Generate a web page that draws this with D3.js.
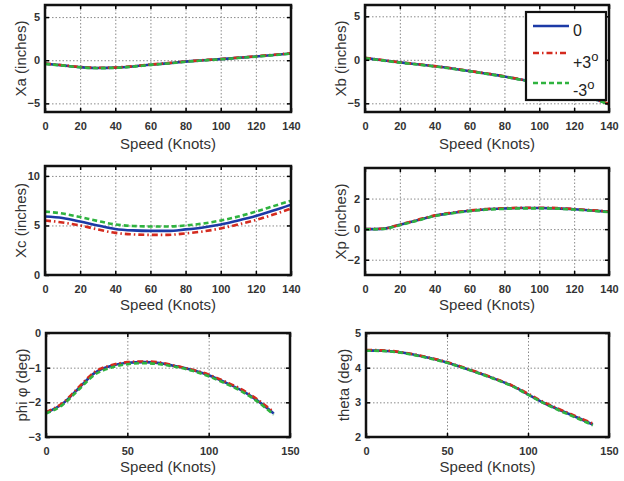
<!DOCTYPE html>
<html><head><meta charset="utf-8">
<script src="https://cdn.jsdelivr.net/npm/d3@7"></script>
<style>body{margin:0;background:#fff}svg{display:block}</style>
</head><body><svg id="c" width="624" height="481"></svg>
<script>
// ---------- data ----------
const speed = [0,10,20,30,40,50,60,70,80,90,100,110,120,130,140];
const seriesNames = ["0","+3","-3"];

const xa0 = [-0.40,-0.60,-0.80,-0.90,-0.86,-0.72,-0.52,-0.36,-0.16,-0.01,0.13,0.28,0.43,0.60,0.78];
const xaP = [-0.38,-0.58,-0.78,-0.88,-0.84,-0.70,-0.50,-0.34,-0.14,0.01,0.15,0.30,0.46,0.63,0.81];
const xaM = [-0.42,-0.62,-0.82,-0.92,-0.88,-0.74,-0.54,-0.38,-0.18,-0.03,0.11,0.26,0.41,0.58,0.76];

const xb0 = [0.20,-0.05,-0.30,-0.52,-0.75,-1.00,-1.30,-1.60,-1.92,-2.30,-2.70,-3.20,-3.80,-4.40,-5.10];
const xbP = [0.22,-0.03,-0.28,-0.50,-0.73,-0.98,-1.28,-1.58,-1.90,-2.28,-2.68,-3.18,-3.78,-4.38,-5.07];
const xbM = [0.18,-0.07,-0.32,-0.54,-0.77,-1.02,-1.32,-1.62,-1.94,-2.32,-2.72,-3.22,-3.82,-4.42,-5.13];

const xc0 = [5.90,5.75,5.40,5.00,4.65,4.50,4.45,4.45,4.60,4.80,5.10,5.50,5.95,6.50,7.10];
const xcP = [5.50,5.30,5.00,4.60,4.25,4.10,4.05,4.05,4.20,4.40,4.70,5.10,5.55,6.10,6.70];
const xcM = [6.40,6.20,5.85,5.45,5.10,4.95,4.90,4.90,5.00,5.20,5.50,5.90,6.40,6.95,7.50];

const xp0 = [0.00,0.02,0.28,0.58,0.88,1.06,1.20,1.30,1.35,1.38,1.38,1.36,1.30,1.22,1.14];
const xpP = [0.01,0.03,0.30,0.60,0.90,1.08,1.22,1.32,1.37,1.40,1.40,1.38,1.32,1.24,1.16];
const xpM = [-0.01,0.01,0.26,0.56,0.86,1.04,1.18,1.28,1.33,1.36,1.36,1.34,1.28,1.20,1.12];

const phi0 = [-2.30,-2.05,-1.60,-1.15,-0.95,-0.86,-0.84,-0.87,-0.96,-1.07,-1.22,-1.42,-1.65,-1.95,-2.32];
const phiP = [-2.28,-2.03,-1.57,-1.12,-0.93,-0.84,-0.82,-0.85,-0.95,-1.06,-1.20,-1.40,-1.62,-1.92,-2.28];
const phiM = [-2.32,-2.08,-1.64,-1.20,-1.00,-0.90,-0.87,-0.90,-0.98,-1.09,-1.25,-1.45,-1.68,-1.98,-2.36];

const th0 = [4.50,4.49,4.45,4.37,4.27,4.15,4.00,3.84,3.67,3.48,3.23,2.98,2.77,2.57,2.36];
const thP = [4.51,4.50,4.46,4.38,4.28,4.16,4.01,3.85,3.68,3.49,3.25,3.00,2.79,2.59,2.39];
const thM = [4.49,4.48,4.44,4.36,4.26,4.14,3.99,3.83,3.66,3.47,3.22,2.97,2.75,2.55,2.34];

const xTicks140 = [0,20,40,60,80,100,120,140];
const xTicks150 = [0,50,100,150];
const yTicksXa = [-5,0,5];
const yTicksXb = [-5,0,5];
const yTicksXc = [0,5,10];
const yTicksXp = [-2,0,2];
const yTicksPhi = [-3,-2,-1,0];
const yTicksTh = [2,3,4,5];

// ---------- layout / style ----------
const colors = ["#1c3aa6","#d42a1e","#2fb33f"];
const dashes = [null,"6,3,1.5,3","5,3"];
const panels = [
  {x0:45,x1:291,y0:5,y1:112,xd:[0,140],yd:[-6,6.4],xt:xTicks140,yt:yTicksXa,yl:"Xa (inches)",d:[xa0,xaP,xaM],lx:20,xty:126,xtl:149},
  {x0:365,x1:609,y0:5,y1:112,xd:[0,140],yd:[-6,6.3],xt:xTicks140,yt:yTicksXb,yl:"Xb (inches)",d:[xb0,xbP,xbM],lx:340,xty:126,xtl:149,legend:true},
  {x0:45,x1:291,y0:166,y1:275,xd:[0,140],yd:[0,11],xt:xTicks140,yt:yTicksXc,yl:"Xc (inches)",d:[xc0,xcP,xcM],lx:20,xty:288,xtl:310},
  {x0:365,x1:609,y0:168,y1:275,xd:[0,140],yd:[-3,4],xt:xTicks140,yt:yTicksXp,yl:"Xp (inches)",d:[xp0,xpP,xpM],lx:340,xty:288,xtl:310},
  {x0:46,x1:290,y0:333,y1:437,xd:[0,150],yd:[-3,0],xt:xTicks150,yt:yTicksPhi,yl:"phi \u03c6 (deg)",d:[phi0,phiP,phiM],lx:21,xty:451,xtl:472},
  {x0:366,x1:609,y0:333,y1:437,xd:[0,150],yd:[2,5],xt:xTicks150,yt:yTicksTh,yl:"theta (deg)",d:[th0,thP,thM],lx:343,xty:451,xtl:472}
];

const svg = d3.select("#c");
const FONT = "'Liberation Sans', Arial, Helvetica, sans-serif";

panels.forEach((p,i)=>{
  const x = d3.scaleLinear().domain(p.xd).range([p.x0,p.x1]);
  const y = d3.scaleLinear().domain(p.yd).range([p.y1,p.y0]);
  const w = p.x1-p.x0, h = p.y1-p.y0;
  const g = svg.append("g");

  // grid
  const gx = g.append("g").attr("transform",`translate(0,${p.y1})`)
    .call(d3.axisBottom(x).tickValues(p.xt).tickSize(-h).tickFormat(""));
  const gy = g.append("g").attr("transform",`translate(${p.x0},0)`)
    .call(d3.axisLeft(y).tickValues(p.yt).tickSize(-w).tickFormat(""));
  [gx,gy].forEach(a=>{ a.select(".domain").remove();
    a.selectAll("line").attr("stroke","#8a8a8a").attr("stroke-width",1).attr("stroke-dasharray","1.5,2"); });

  // tick labels
  const lx = g.append("g").attr("transform",`translate(0,${p.y1})`)
    .call(d3.axisBottom(x).tickValues(p.xt).tickSize(0).tickPadding(10).tickFormat(d3.format("d")));
  const ly = g.append("g").attr("transform",`translate(${p.x0},0)`)
    .call(d3.axisLeft(y).tickValues(p.yt).tickSize(0).tickPadding(5).tickFormat(d3.format("d")));
  [lx,ly].forEach(a=>{ a.select(".domain").remove();
    a.selectAll("text").attr("font-family",FONT).attr("font-size",11).attr("font-weight","bold").attr("fill","#333"); });

  // clip + lines
  const cid = "clip"+i;
  svg.append("clipPath").attr("id",cid).append("rect").attr("x",p.x0).attr("y",p.y0).attr("width",w).attr("height",h);
  const line = d3.line().x((d,k)=>x(speed[k])).y(d=>y(d)).curve(d3.curveMonotoneX);
  const lg = g.append("g").attr("clip-path",`url(#${cid})`);
  p.d.forEach((s,j)=>{
    lg.append("path").attr("d",line(s)).attr("fill","none").attr("stroke",colors[j])
      .attr("stroke-width",2.6).attr("stroke-dasharray",dashes[j]);
  });

  // inner ticks on all four sides
  const tk = [
    [d3.axisBottom(x).tickValues(p.xt), `translate(0,${p.y1})`],
    [d3.axisTop(x).tickValues(p.xt), `translate(0,${p.y0})`],
    [d3.axisLeft(y).tickValues(p.yt), `translate(${p.x0},0)`],
    [d3.axisRight(y).tickValues(p.yt), `translate(${p.x1},0)`]
  ];
  tk.forEach(([ax,tr])=>{
    const a = g.append("g").attr("transform",tr).call(ax.tickSize(-4).tickFormat(""));
    a.select(".domain").remove();
    a.selectAll("line").attr("stroke","#000").attr("stroke-width",1.5);
  });

  // frame
  g.append("rect").attr("x",p.x0).attr("y",p.y0).attr("width",w).attr("height",h)
    .attr("fill","none").attr("stroke","#111").attr("stroke-width",2.5);

  // axis titles
  g.append("text").attr("x",(p.x0+p.x1)/2).attr("y",p.xtl).attr("text-anchor","middle")
    .attr("font-family",FONT).attr("font-size",15).attr("fill","#333").text("Speed (Knots)");
  g.append("text").attr("transform",`translate(${p.lx},${(p.y0+p.y1)/2}) rotate(-90)`)
    .attr("text-anchor","middle").attr("dominant-baseline","central")
    .attr("font-family",FONT).attr("font-size",15).attr("fill","#333").text(p.yl);

  // legend
  if(p.legend){
    const L = g.append("g");
    L.append("rect").attr("x",526).attr("y",12).attr("width",80).attr("height",88)
      .attr("fill","#fff").attr("stroke","#111").attr("stroke-width",2.2);
    const ly0 = [26,53,83];
    const ty = [36,68,96];
    seriesNames.forEach((nm,j)=>{
      L.append("line").attr("x1",533).attr("x2",569).attr("y1",ly0[j]).attr("y2",ly0[j])
        .attr("stroke",colors[j]).attr("stroke-width",2.6).attr("stroke-dasharray",dashes[j]);
      const t = L.append("text").attr("x",573).attr("y",ty[j]).attr("font-family",FONT)
        .attr("font-size",16).attr("fill","#222").text(nm);
      if(j>0) t.append("tspan").attr("dy",-7).attr("font-size",13).text("o");
    });
  }
});
</script></body></html>
